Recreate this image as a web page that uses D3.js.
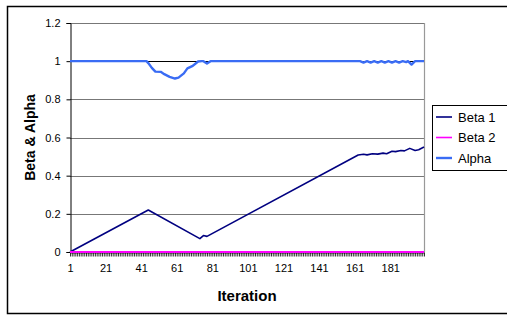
<!DOCTYPE html>
<html>
<head>
<meta charset="utf-8">
<script src="https://cdn.jsdelivr.net/npm/d3@7"></script>
<style>
  body { margin: 0; background: #fff; }
  svg { display: block; font-family: "Liberation Sans", Arial, sans-serif; }
</style>
</head>
<body>
<div id="chart"></div>
<script>
// series data as (iteration, value) points
const seriesNames = ["Beta 1", "Beta 2", "Alpha"];
const beta1Iter = [1, 45, 74, 76, 78, 163, 166, 168, 171, 174, 177, 179, 182, 184, 187, 189, 192, 195, 197, 200];
const beta1Val  = [0, 0.22, 0.07, 0.086, 0.082, 0.508, 0.512, 0.509, 0.515, 0.513, 0.518, 0.515, 0.528, 0.526, 0.532, 0.530, 0.543, 0.532, 0.536, 0.55];
const beta2Iter = [1, 200];
const beta2Val  = [0, 0];
const alphaIter = [1, 44, 45, 47, 49, 52, 54, 57, 60, 62, 65, 67, 70, 73, 75, 76, 78, 80, 164,
                   166, 168, 170, 172, 174, 176, 178, 180, 182, 184, 186, 188, 190, 191, 193, 195, 200];
const alphaVal  = [1, 1, 0.99, 0.965, 0.945, 0.944, 0.932, 0.918, 0.909, 0.914, 0.936, 0.962, 0.975, 0.998, 1, 1, 0.988, 1, 1,
                   0.993, 1, 0.993, 1, 0.993, 1, 0.993, 1, 0.993, 1, 0.993, 1, 0.995, 1, 0.982, 1, 1];
const xTickLabels = [1, 21, 41, 61, 81, 101, 121, 141, 161, 181];
const yTickLabels = [0, 0.2, 0.4, 0.6, 0.8, 1, 1.2];
const categoryCount = 200;

const width = 507, height = 316;
const margin = {top: 23, right: 83, bottom: 64, left: 70};

const svg = d3.select("#chart").append("svg")
    .attr("width", width)
    .attr("height", height);

// outer chart frame
svg.append("rect")
    .attr("x", 7.5).attr("y", 6.5)
    .attr("width", 510).attr("height", 307)
    .attr("fill", "#fff")
    .attr("stroke", "#000")
    .attr("stroke-width", 1.5);

const xScale = d3.scaleLinear([1, categoryCount], [margin.left, width - margin.right]);
const yScale = d3.scaleLinear([0, 1.2], [height - margin.bottom, margin.top]);

// horizontal gridlines
svg.append("g")
    .selectAll("line")
    .data(yTickLabels.filter(d => d > 0))
    .join("line")
    .attr("x1", margin.left)
    .attr("x2", width - margin.right)
    .attr("y1", d => Math.round(yScale(d)) + 0.5)
    .attr("y2", d => Math.round(yScale(d)) + 0.5)
    .style("stroke", d => d === 1 ? "#000" : "#777")
    .style("stroke-width", 1);

// plot area right border
svg.append("line")
    .attr("x1", width - margin.right + 0.5)
    .attr("x2", width - margin.right + 0.5)
    .attr("y1", yScale(1.2))
    .attr("y2", yScale(0))
    .style("stroke", "#999")
    .style("stroke-width", 1.2);

// y axis
const yAxis = d3.axisLeft(yScale)
    .tickValues(yTickLabels)
    .tickFormat(d => String(d))
    .tickSize(4)
    .tickPadding(6);

svg.append("g")
    .attr("transform", `translate(${margin.left + 0.5},0)`)
    .call(yAxis)
    .call(g => g.selectAll("text").attr("font-size", 11).attr("fill", "#000"))
    .call(g => g.selectAll("line,path").attr("stroke", "#000"));

// x axis: a tick mark for every category, labels every 20
const xAxis = d3.axisBottom(xScale)
    .tickValues(d3.range(1, categoryCount + 1))
    .tickFormat(d => xTickLabels.includes(d) ? String(d) : "")
    .tickSizeInner(4)
    .tickSizeOuter(0)
    .tickPadding(6);

svg.append("g")
    .attr("transform", `translate(0,${yScale(0) + 0.5})`)
    .call(xAxis)
    .call(g => g.selectAll("text").attr("font-size", 11).attr("fill", "#000").attr("dy", "0.9em"))
    .call(g => g.selectAll("line,path").attr("stroke", "#000").attr("stroke-width", 0.8));

// series lines
const colors = d3.scaleOrdinal(seriesNames, ["#000080", "#ff00ff", "#3a6cf4"]);
const widths = {"Beta 1": 1.6, "Beta 2": 2.2, "Alpha": 2.4};
const series = [
    {name: "Alpha", iter: alphaIter, val: alphaVal},
    {name: "Beta 1", iter: beta1Iter, val: beta1Val},
    {name: "Beta 2", iter: beta2Iter, val: beta2Val}
];

const line = d3.line()
    .x(d => xScale(d[0]))
    .y(d => yScale(d[1]));

svg.append("g")
    .selectAll("path")
    .data(series)
    .join("path")
    .attr("d", s => line(s.iter.map((it, i) => [it, s.val[i]])))
    .style("fill", "none")
    .style("stroke", s => colors(s.name))
    .style("stroke-width", s => widths[s.name])
    .style("stroke-linejoin", "round");

// axis titles
svg.append("text")
    .attr("x", (margin.left + width - margin.right) / 2)
    .attr("y", 301)
    .attr("text-anchor", "middle")
    .attr("font-size", 15)
    .attr("font-weight", "bold")
    .text("Iteration");

svg.append("text")
    .attr("transform", `translate(35,${(yScale(0) + yScale(1.2)) / 2}) rotate(-90)`)
    .attr("text-anchor", "middle")
    .attr("font-size", 14)
    .attr("font-weight", "bold")
    .text("Beta & Alpha");

// legend
const legend = svg.append("g").attr("transform", "translate(432,105)");
legend.append("rect")
    .attr("x", 0.5).attr("y", 0.5)
    .attr("width", 90).attr("height", 65)
    .attr("fill", "#fff")
    .attr("stroke", "#000");

const item = legend.selectAll("g.item")
    .data(seriesNames)
    .join("g")
    .attr("class", "item")
    .attr("transform", (d, i) => `translate(0,${12 + i * 20.5})`);

item.append("line")
    .attr("x1", 4).attr("x2", 20)
    .attr("y1", 0).attr("y2", 0)
    .style("stroke", d => colors(d))
    .style("stroke-width", d => d === "Alpha" ? 2.4 : 1.6);

item.append("text")
    .attr("x", 26)
    .attr("dy", "0.35em")
    .attr("font-size", 13)
    .text(d => d);
</script>
</body>
</html>
